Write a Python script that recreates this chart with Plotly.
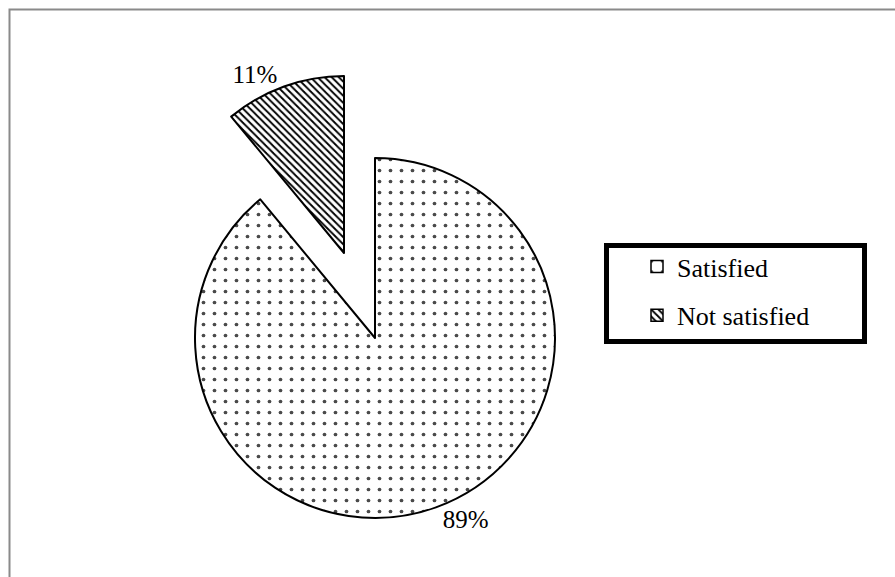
import plotly.graph_objects as go

# ---- data ----
labels = ["Satisfied", "Not satisfied"]
values = [89, 11]

# ---- styles ----
W, H = 895, 577
FONT = "Liberation Serif"
shapes_pat = [".", "\\"]
fg_cols = ["#4a4a4a", "#000000"]
pat_sizes = [11, 5]
pat_sol = [0.09, 0.38]
CLEAR = "rgba(0,0,0,0)"


def dom_x(cx, r):
    return [(cx - r) / W, (cx + r) / W]


def dom_y(cy, r):
    return [1 - (cy + r) / H, 1 - (cy - r) / H]


def py(v):
    return 1 - v / H


fig = go.Figure()

# legend proxies (hidden behind the legend box)
for i, (lab, val) in enumerate(zip(labels, values)):
    fig.add_trace(go.Pie(
        labels=[lab], values=[val], sort=False,
        domain=dict(x=[0.80, 0.805], y=[0.47, 0.478]),
        marker=dict(colors=["white"],
                    line=dict(color="black", width=1.5),
                    pattern=dict(shape=[shapes_pat[i]], fgcolor=[fg_cols[i]],
                                 bgcolor=["white"], size=[pat_sizes[i]],
                                 solidity=[pat_sol[i]])),
        textinfo="none", hoverinfo="skip",
        legendgroup="g%d" % i, showlegend=True,
    ))

# main pie (Satisfied shown) and exploded slice (Not satisfied shown)
pies = [
    dict(cx=375, cy=338, r=180, show=0),
    dict(cx=344, cy=253, r=177, show=1),
]
for p in pies:
    s = p["show"]
    colors = ["white" if i == s else CLEAR for i in range(2)]
    fig.add_trace(go.Pie(
        labels=labels, values=values, sort=False,
        direction="clockwise", rotation=0,
        domain=dict(x=dom_x(p["cx"], p["r"]), y=dom_y(p["cy"], p["r"])),
        marker=dict(
            colors=colors,
            line=dict(color=["black" if i == s else CLEAR for i in range(2)],
                      width=[2 if i == s else 0 for i in range(2)]),
            pattern=dict(
                shape=[shapes_pat[i] if i == s else "" for i in range(2)],
                fgcolor=[fg_cols[i] if i == s else CLEAR for i in range(2)],
                bgcolor=colors,
                size=pat_sizes, solidity=pat_sol),
        ),
        textinfo="percent",
        textposition=["outside" if i == s else "none" for i in range(2)],
        outsidetextfont=dict(family=FONT, size=25, color="black"),
        hoverinfo="skip", showlegend=False,
    ))

fig.update_layout(
    width=W, height=H,
    margin=dict(l=0, r=0, t=0, b=0),
    paper_bgcolor="white", plot_bgcolor="white",
    showlegend=True,
    legend=dict(
        x=637 / W, xanchor="left", y=py(243), yanchor="top",
        bgcolor=CLEAR, borderwidth=0,
        font=dict(family=FONT, size=26, color="black"),
        traceorder="grouped", tracegroupgap=12,
    ),
    shapes=[
        # outer chart border
        dict(type="rect", xref="paper", yref="paper",
             x0=9.5 / W, x1=1.05, y0=-0.05, y1=py(9.5),
             line=dict(color="#8a8a8a", width=2), fillcolor=CLEAR, layer="above"),
        # legend box
        dict(type="rect", xref="paper", yref="paper",
             x0=606.5 / W, x1=864.5 / W, y0=py(341.5), y1=py(245.5),
             line=dict(color="black", width=5), fillcolor="white", layer="above"),
    ],
)

fig.write_html("out.html",
               config={"displayModeBar": False},
               post_script="document.body.style.margin='0';document.body.style.padding='0';")
